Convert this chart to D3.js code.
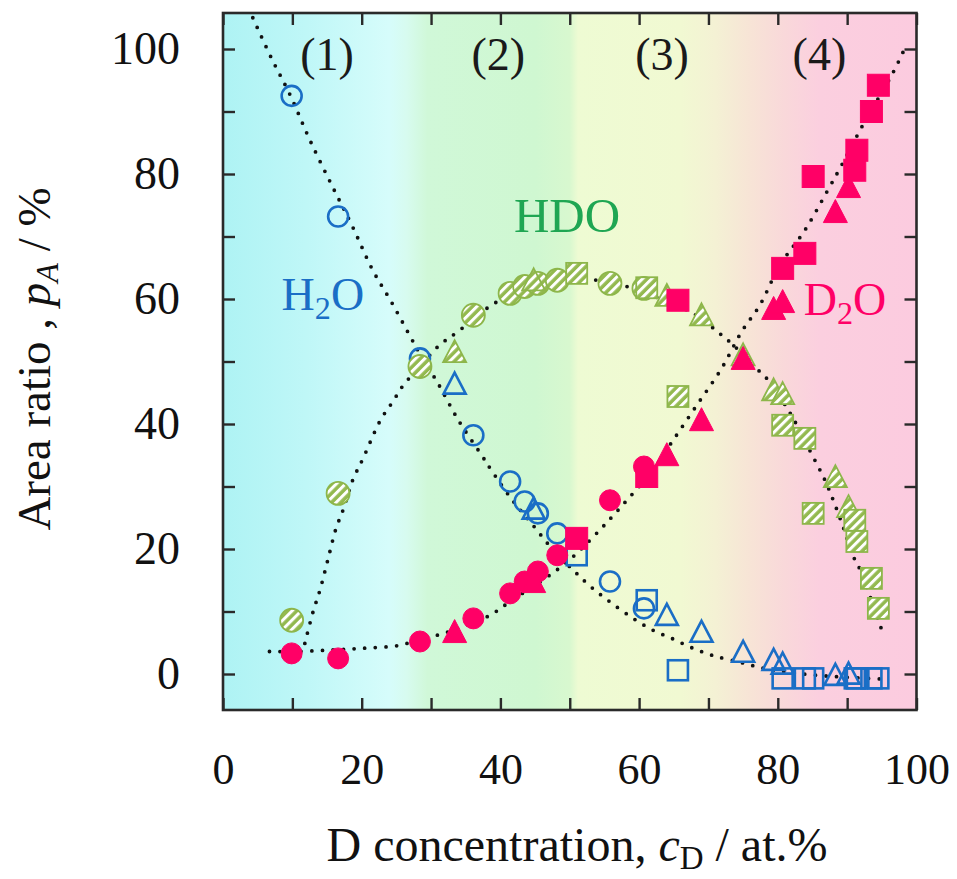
<!DOCTYPE html>
<html><head><meta charset="utf-8">
<script src="https://cdn.jsdelivr.net/npm/d3@7"></script>
<style>body{margin:0;background:#fff}text{font-family:"Liberation Serif","Times New Roman",serif}</style>
</head><body><svg id="c" width="957" height="879"></svg>
<script>
// ---------- data ----------
const xCircle   = [9.9, 16.6, 28.4, 36.1, 41.4, 43.5, 45.4, 48.2, 55.8, 60.7];
const h2oCircle = [92.5, 73.2, 50.5, 38.2, 30.8, 27.6, 25.7, 22.5, 14.8, 10.5];
const hdoCircle = [8.6, 28.9, 49.2, 57.4, 60.9, 62.0, 62.5, 63.0, 62.5, 61.7];
const d2oCircle = [3.3, 2.5, 5.2, 8.9, 12.9, 14.8, 16.4, 19.0, 27.8, 33.2];

const xTriangle = [33.4, 44.8, 64.0, 69.0, 75.0, 79.4, 80.7, 88.3, 90.2];
const h2oTri    = [46.2, 26.2, 9.2, 6.5, 3.3, 2.0, 1.4, -0.4, -0.2];
const hdoTri    = [51.3, 62.8, 60.3, 57.2, 50.8, 45.2, 44.6, 31.3, 26.5];
const d2oTri    = [6.5, 14.5, 34.8, 40.4, 50.2, 58.2, 59.3, 73.7, 77.7];

const xSquare   = [51.0, 61.1, 65.6, 80.7, 83.9, 85.1, 91.1, 91.4, 93.5, 94.5];
const h2oSq     = [19.0, 11.8, 0.6, -0.7, -0.7, -0.7, -0.7, -0.7, -0.7, -0.7];
const hdoSq     = [64.1, 61.8, 44.4, 39.8, 37.7, 25.7, 24.6, 21.2, 15.3, 10.5];
const d2oSq     = [21.7, 31.6, 59.8, 64.9, 67.3, 79.6, 80.6, 83.8, 90.0, 94.2];

// dotted guide curves
const h2oFitX = [4.3, 7, 9.7, 12.5, 16, 18.5, 21.6, 24.3, 27, 28.5, 31, 34, 37.3, 38.7, 41.6, 44.7, 47.5, 50.7, 53, 55.5, 59, 62, 64.7, 67.6, 70.5, 74.8, 78, 82, 88, 95];
const h2oFitY = [105, 98.5, 92.6, 85.5, 77.5, 72, 64.6, 59.5, 54, 51, 46.5, 40.5, 35, 32.6, 28, 23.8, 20, 16.4, 14, 11.8, 9, 7, 5.7, 4.2, 3, 1.8, 0.9, 0.2, -0.4, -0.8];
const hdoFitX = [11.8, 13, 14, 15.1, 16.3, 17.3, 18.7, 20.2, 22.7, 24.5, 26, 28.4, 31.2, 33.9, 38.7, 44, 50, 53.4, 57.9, 62, 67.8, 71.6, 73.8, 77.2, 78.4, 81.8, 84.6, 86.8, 88, 89.5, 90.9, 91.9, 94.5, 95];
const hdoFitY = [4.9, 10, 13.5, 18.2, 23.3, 26.2, 31, 34.5, 40.6, 43.6, 46.2, 49.2, 52.6, 54.8, 59, 62, 63.8, 63.1, 62.1, 60.5, 57.7, 54.5, 52.4, 48.6, 47.3, 41.7, 35.8, 31, 27.8, 23.3, 18.8, 16.6, 8.6, 7];
const d2oFitX = [6.7, 10, 15, 20, 25.5, 28.4, 31.2, 34.6, 38.5, 41.4, 44.7, 48.1, 51, 54.3, 56.3, 58.4, 61.6, 64.9, 68.5, 71.9, 74.8, 77.4, 80.3, 83.9, 87.1, 89.2, 92.1, 94.5, 96.7, 98.1];
const d2oFitY = [3.6, 3.6, 3.8, 4.1, 4.6, 5.6, 6.3, 7.6, 9.4, 11.6, 14, 16.6, 19.3, 23, 25.4, 28, 32.1, 37.4, 43.3, 48.9, 54.8, 59, 65.4, 71, 77.2, 81.4, 87.5, 92.1, 96.4, 99.6];

const xTicks = [0,10,20,30,40,50,60,70,80,90,100];
const yTicks = [0,10,20,30,40,50,60,70,80,90,100];
const regionLabels = ["(1)","(2)","(3)","(4)"];
const regionX = [15.0, 39.7, 63.3, 86.0];

// ---------- drawing ----------
const svg = d3.select("#c");
const x = d3.scaleLinear().domain([0,100]).range([223,916.5]);
const y = d3.scaleLinear().domain([-5.76,105.76]).range([710,13]);
const L=x(0), R=x(100), T=y(105.76), B=y(-5.76);

const defs = svg.append("defs");
const grad = defs.append("linearGradient").attr("id","bg")
  .attr("gradientUnits","userSpaceOnUse").attr("x1",L).attr("x2",R).attr("y1",0).attr("y2",0);
[[0,"#aef3f4"],[0.12,"#bff7f7"],[0.24,"#d6fcfb"],[0.265,"#d7fbef"],[0.295,"#d0f8d8"],[0.45,"#cff7d1"],
 [0.50,"#d8f8cf"],[0.512,"#eefbd3"],[0.66,"#f1f9d2"],[0.71,"#f4f1d4"],[0.76,"#f7e4d6"],[0.81,"#f9d8da"],
 [0.86,"#fbcfdf"],[1,"#fccbdf"]].forEach(s=>grad.append("stop").attr("offset",s[0]).attr("stop-color",s[1]));

const pat = defs.append("pattern").attr("id","hatch").attr("patternUnits","userSpaceOnUse")
  .attr("width",6.5).attr("height",6.5).attr("patternTransform","rotate(45)");
pat.append("rect").attr("width",6.5).attr("height",6.5).attr("fill","#93b94f");
pat.append("rect").attr("width",3).attr("height",6.5).attr("fill","#ffffff");

svg.append("rect").attr("x",L).attr("y",T).attr("width",R-L).attr("height",B-T).attr("fill","url(#bg)");

// dotted curves
const line = d3.line().x(d=>x(d[0])).y(d=>y(d[1])).curve(d3.curveCatmullRom.alpha(0.5));
const dotted = (xs,ys)=>svg.append("path").attr("d",line(xs.map((v,i)=>[v,ys[i]])))
  .attr("fill","none").attr("stroke","#111").attr("stroke-width",3.8)
  .attr("stroke-linecap","round").attr("stroke-dasharray","0 10.6");
dotted(h2oFitX,h2oFitY); dotted(hdoFitX,hdoFitY); dotted(d2oFitX,d2oFitY);

// markers
const BLUE="#1a6ec6", PINK="#ff0066", GREEN_ST="#8db64a";
function shape(g, type, xs, ys, style){
  xs.forEach((xv,i)=>{
    const cx=x(xv), cy=y(ys[i]);
    let el;
    if(type==="circle") el=g.append("circle").attr("cx",cx).attr("cy",cy).attr("r",style.r);
    else if(type==="square") el=g.append("rect").attr("x",cx-style.s/2).attr("y",cy-style.s/2).attr("width",style.s).attr("height",style.s);
    else { const w=style.w,h=style.h;
      el=g.append("path").attr("d",`M${cx},${cy-h*0.6}L${cx+w/2},${cy+h*0.4}L${cx-w/2},${cy+h*0.4}Z`); }
    el.attr("fill",style.fill).attr("stroke",style.stroke).attr("stroke-width",style.sw).attr("stroke-linejoin","miter");
  });
}
const gB=svg.append("g"), gG=svg.append("g"), gP=svg.append("g");
const openB={fill:"none",stroke:BLUE,sw:2.6};
shape(gB,"circle",xCircle,h2oCircle,{...openB,r:10});
shape(gB,"triangle",xTriangle,h2oTri,{...openB,w:22,h:21});
shape(gB,"square",xSquare,h2oSq,{...openB,s:20});
const hat={fill:"url(#hatch)",stroke:GREEN_ST,sw:1.8};
shape(gG,"circle",xCircle,hdoCircle,{...hat,r:11.5});
shape(gG,"triangle",xTriangle,hdoTri,{...hat,w:23,h:22});
shape(gG,"square",xSquare,hdoSq,{...hat,s:21});
const fil={fill:PINK,stroke:PINK,sw:1};
shape(gP,"circle",xCircle,d2oCircle,{...fil,r:10.5});
shape(gP,"triangle",xTriangle,d2oTri,{...fil,w:24,h:23});
shape(gP,"square",xSquare,d2oSq,{...fil,s:22});

// axes (inward ticks on all four sides)
const ax = (g,a,fs)=>{ g.call(a); g.select(".domain").remove();
  g.selectAll(".tick line").attr("stroke","#2a2a2a").attr("stroke-width",2.4);
  g.selectAll("text").attr("font-family","Liberation Serif").attr("font-size",fs).attr("fill","#111"); };
ax(svg.append("g").attr("transform",`translate(0,${B})`),
  d3.axisBottom(x).tickValues(xTicks).tickSize(-12).tickPadding(43).tickFormat(d=>d%20===0?d:""),44);
ax(svg.append("g").attr("transform",`translate(0,${T})`),
  d3.axisTop(x).tickValues(xTicks).tickSize(-12).tickFormat(""),44);
ax(svg.append("g").attr("transform",`translate(${L},0)`),
  d3.axisLeft(y).tickValues(yTicks).tickSize(-12).tickPadding(43).tickFormat(d=>d%20===0?d:""),46);
ax(svg.append("g").attr("transform",`translate(${R},0)`),
  d3.axisRight(y).tickValues(yTicks).tickSize(-12).tickFormat(""),44);
svg.append("rect").attr("x",L).attr("y",T).attr("width",R-L).attr("height",B-T)
  .attr("fill","none").attr("stroke","#2a2a2a").attr("stroke-width",2.6);

// region labels
regionLabels.forEach((t,i)=>svg.append("text").attr("x",x(regionX[i])).attr("y",y(96.6))
  .attr("text-anchor","middle").attr("font-size",46).attr("fill","#1a1a1a").text(t));

// species labels
function chem(xv,yv,a,sub,b,color,fs){
  const t=svg.append("text").attr("x",x(xv)).attr("y",y(yv)).attr("text-anchor","middle")
    .attr("font-size",fs).attr("fill",color);
  t.append("tspan").text(a);
  if(sub){ t.append("tspan").attr("font-size",fs*0.7).attr("dy",fs*0.2).text(sub);
           t.append("tspan").attr("dy",-fs*0.2).text(b); }
  return t;
}
chem(14.4,58.2,"H","2","O",BLUE,46);
chem(89.7,57.4,"D","2","O",PINK,46);
chem(49.6,70.8,"HDO",null,null,"#1fa653",49);

// axis titles
const xt=svg.append("text").attr("x",577).attr("y",861).attr("text-anchor","middle").attr("font-size",48).attr("fill","#111");
xt.append("tspan").text("D concentration, ");
xt.append("tspan").attr("font-style","italic").text("c");
xt.append("tspan").attr("font-size",33).attr("dy",8).text("D");
xt.append("tspan").attr("dy",-8).text(" / at.%");
const yt=svg.append("text").attr("transform","translate(50,359) rotate(-90)").attr("text-anchor","middle").attr("font-size",47).attr("fill","#111");
yt.append("tspan").text("Area ratio , ");
yt.append("tspan").attr("font-style","italic").text("p");
yt.append("tspan").attr("font-style","italic").attr("font-size",32).attr("dy",8).text("A");
yt.append("tspan").attr("dy",-8).text(" / %");
</script></body></html>
